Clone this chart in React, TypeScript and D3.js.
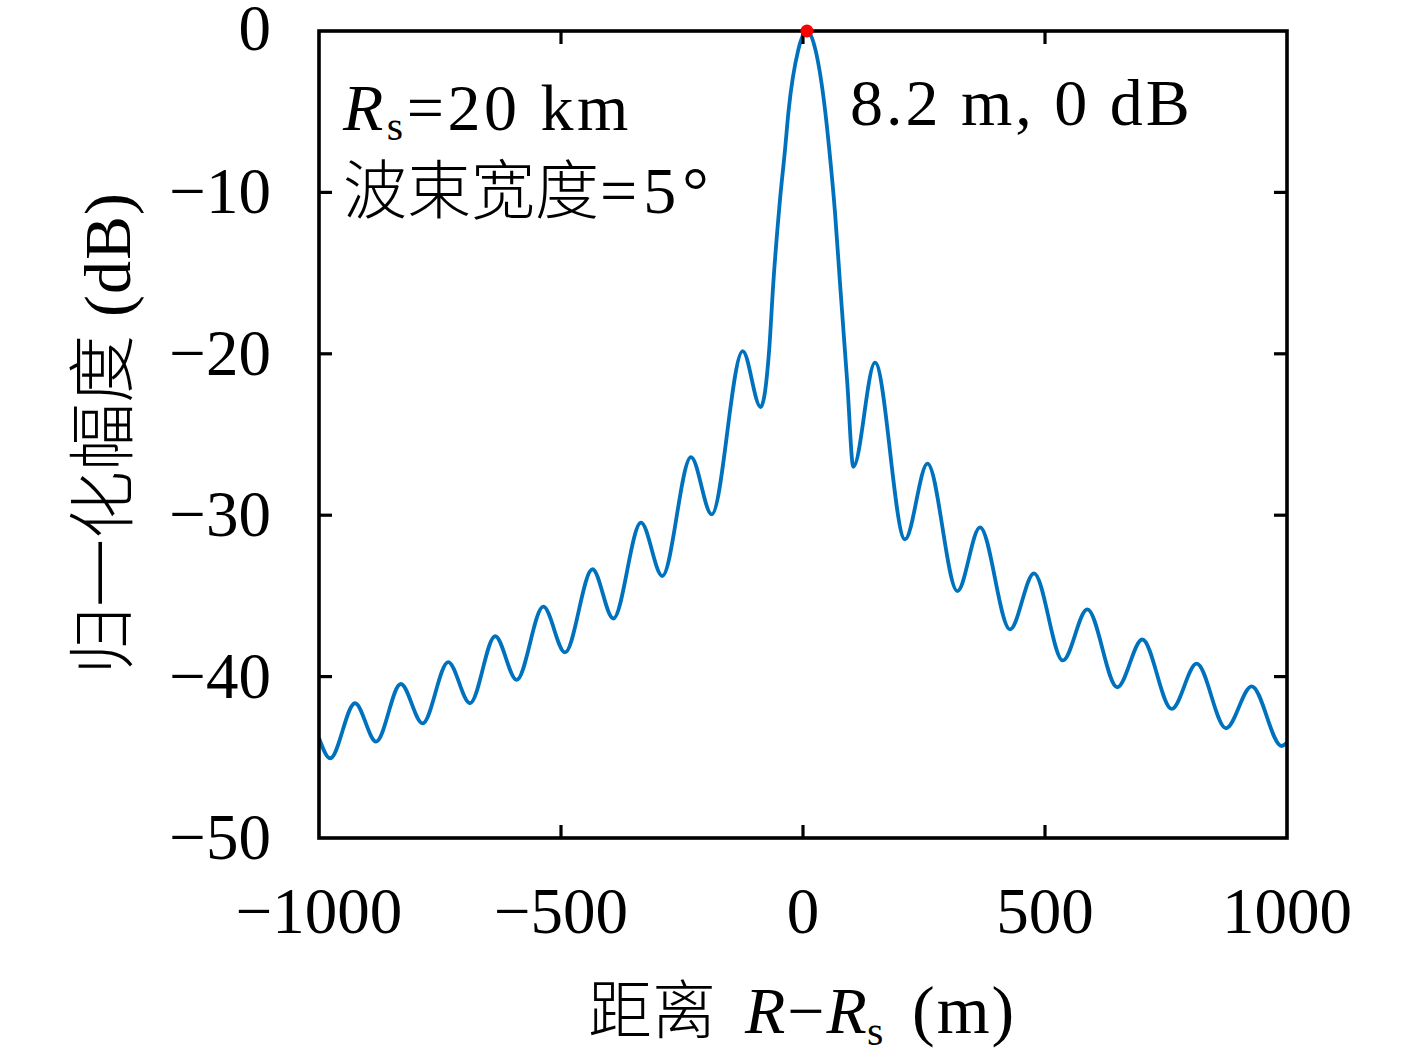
import React from "react";
import * as d3 from "d3";

// ---- data ----
const xTicks = [-1000, -500, 0, 500, 1000];
const yTicks = [0, -10, -20, -30, -40, -50];

// left sidelobes (range in m, amplitude in dB)
const leftX = [-1000, -977, -925.6, -882, -831, -786, -733, -688, -636, -591.6, -536.5, -491.7, -435, -391.9, -334.7, -290.7, -231.4, -188.6, -124.6, -87.4];
const leftDb = [-43.8, -45.06, -41.65, -44.03, -40.46, -42.9, -39.1, -41.65, -37.5, -40.2, -35.67, -38.5, -33.35, -36.4, -30.46, -33.77, -26.4, -29.95, -19.83, -23.3];

// main lobe
const mainX = [-70, -61.3, -48, -37.2, -30, -10, 8.2, 26, 46, 54.4, 66, 76.4, 91.5];
const mainDb = [-19.8, -15.6, -10.6, -7.37, -5.0, -1.2, 0, -1.2, -5.0, -7.37, -11.2, -15.6, -21.8];

// right sidelobes
const rightX = [104, 148.8, 210.7, 257.2, 319, 365.7, 427.7, 477.3, 536.9, 587.4, 649.4, 701, 761.8, 813.4, 874, 927, 989, 1000];
const rightDb = [-27.0, -20.55, -31.5, -26.8, -34.7, -30.75, -37.07, -33.6, -39.0, -35.83, -40.66, -37.7, -42.0, -39.2, -43.2, -40.6, -44.3, -44.1];

const peakX = 8.2;
const peakDb = 0;

const W = 1417;
const H = 1058;
const L = 319, R = 1287, T = 31, B = 838;

const serif = "'Liberation Serif', 'DejaVu Serif', serif";
const cjk = "'Noto Sans CJK SC', sans-serif";

export default function App() {
  const x = d3.scaleLinear().domain([-1000, 1000]).range([L, R]);
  const y = d3.scaleLinear().domain([-50, 0]).range([B, T]);

  const xs = [...leftX, ...mainX, ...rightX];
  const ys = [...leftDb, ...mainDb, ...rightDb];
  const pts: [number, number][] = xs.map((v, i) => [v, ys[i]]);
  const line = d3
    .line<[number, number]>()
    .x((d) => x(d[0]))
    .y((d) => y(d[1]))
    .curve(d3.curveMonotoneX);

  const fmt = (v: number) => (v < 0 ? "\u2212" + Math.abs(v) : String(v));
  const tickLen = 13;

  return (
    <svg
      width={W}
      height={H}
      viewBox={`0 0 ${W} ${H}`}
      style={{ position: "absolute", left: 0, top: 0, background: "#fff" }}
    >
      <rect x={0} y={0} width={W} height={H} fill="#fff" />
      <defs>
        <clipPath id="plot">
          <rect x={L} y={T - 8} width={R - L} height={B - T + 8} />
        </clipPath>
      </defs>

      {/* curve */}
      <path
        d={line(pts) || ""}
        fill="none"
        stroke="#0072BD"
        strokeWidth={3.8}
        strokeLinejoin="round"
        clipPath="url(#plot)"
      />

      {/* box */}
      <rect x={L} y={T} width={R - L} height={B - T} fill="none" stroke="#000" strokeWidth={3.6} />

      {/* x ticks */}
      {xTicks.slice(1, -1).map((t) => (
        <g key={"xt" + t}>
          <line x1={x(t)} x2={x(t)} y1={B} y2={B - tickLen} stroke="#000" strokeWidth={3.2} />
          <line x1={x(t)} x2={x(t)} y1={T} y2={T + tickLen} stroke="#000" strokeWidth={3.2} />
        </g>
      ))}
      {/* y ticks */}
      {yTicks.slice(1, -1).map((t) => (
        <g key={"yt" + t}>
          <line x1={L} x2={L + tickLen} y1={y(t)} y2={y(t)} stroke="#000" strokeWidth={3.2} />
          <line x1={R} x2={R - tickLen} y1={y(t)} y2={y(t)} stroke="#000" strokeWidth={3.2} />
        </g>
      ))}

      {/* x tick labels */}
      {xTicks.map((t) => (
        <text key={"xl" + t} x={x(t)} y={933} textAnchor="middle" fontFamily={serif} fontSize={65}>
          {fmt(t)}
        </text>
      ))}
      {/* y tick labels */}
      {yTicks.map((t) => (
        <text key={"yl" + t} x={271} y={y(t) + (t === 0 ? 19 : 21)} textAnchor="end" fontFamily={serif} fontSize={65}>
          {fmt(t)}
        </text>
      ))}

      {/* x axis title */}
      <text x={588} y={1033} fontSize={64} fontFamily={cjk} fontWeight={300}>距离</text>
      <text x={745} y={1033} fontSize={66} fontFamily={serif}>
        <tspan fontStyle="italic">R</tspan>
        <tspan dx={2}>{"\u2212"}</tspan>
        <tspan dx={2} fontStyle="italic">R</tspan>
        <tspan fontSize={42} dy={12}>s</tspan>
      </text>
      <text x={912} y={1033} fontSize={68} fontFamily={serif} letterSpacing={2}>(m)</text>

      {/* y axis title */}
      <text
        transform={`translate(127, 675) rotate(-90)`}
        textAnchor="start"
        fontSize={68}
        fontFamily={cjk}
        fontWeight={300}
      >
        归一化幅度
      </text>
      <text
        transform={`translate(130, 317) rotate(-90)`}
        textAnchor="start"
        fontSize={66}
        fontFamily={serif}
        letterSpacing={1}
      >
        (dB)
      </text>

      {/* annotations */}
      <text x={343} y={130} fontSize={66} fontFamily={serif} letterSpacing={3.5}>
        <tspan fontStyle="italic">R</tspan>
        <tspan fontSize={42} dy={10}>s</tspan>
        <tspan dy={-10}>=20 km</tspan>
      </text>
      <text x={343} y={213} fontSize={64} fontFamily={cjk} fontWeight={300}>波束宽度</text>
      <text x={600} y={213} fontSize={66} fontFamily={serif} letterSpacing={6}>=5°</text>
      <text x={850} y={125} fontSize={66} fontFamily={serif} letterSpacing={3}>
        8.2 m, 0 dB
      </text>

      {/* peak marker */}
      <circle cx={x(peakX)} cy={y(peakDb)} r={6.5} fill="#ff0000" />
    </svg>
  );
}
